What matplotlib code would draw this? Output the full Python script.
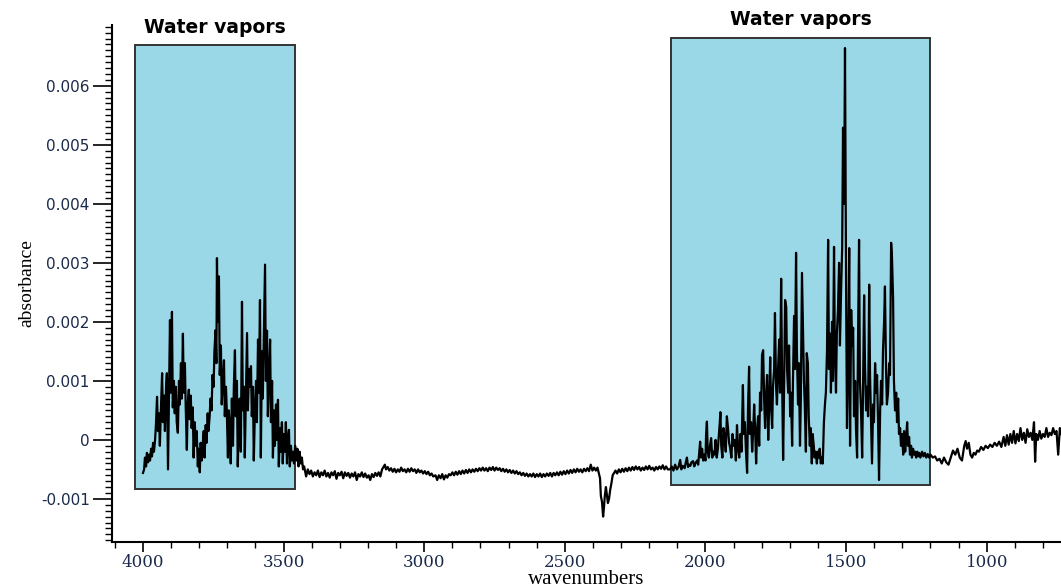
import matplotlib.pyplot as plt
from matplotlib.patches import Rectangle
from matplotlib.ticker import MultipleLocator
import numpy as np

# spectrum, absorbance in units of 1e-3
wn_oh = [4000, 3996, 3993, 3989, 3986, 3982, 3978, 3975, 3971, 3968, 3964, 3961, 3957, 3954,
         3950, 3947, 3943, 3940, 3936, 3932, 3929, 3925, 3922, 3918, 3915, 3911, 3908, 3904,
         3901, 3897, 3894, 3890, 3887, 3883, 3880, 3876, 3872, 3869, 3865, 3862, 3858, 3855,
         3851, 3848, 3844, 3841, 3837, 3834, 3830, 3827, 3823, 3820, 3816, 3812, 3809, 3805,
         3802, 3798, 3795, 3791, 3788, 3784, 3781, 3777, 3774, 3770, 3767, 3763, 3760, 3756,
         3753, 3749, 3746, 3742, 3739, 3737, 3734, 3730, 3727, 3723, 3720, 3716, 3712, 3709,
         3705, 3702, 3698, 3695, 3691, 3688, 3684, 3680, 3677, 3673, 3670, 3666, 3663, 3659,
         3656, 3652, 3648, 3645, 3641, 3638, 3634, 3630, 3627, 3623, 3620, 3616, 3613, 3609,
         3606, 3602, 3598, 3595, 3591, 3588, 3584, 3581, 3577, 3574, 3570, 3566, 3563, 3559,
         3556, 3552, 3548, 3545, 3541, 3538, 3534, 3531, 3527, 3524, 3520, 3517, 3513, 3510,
         3506, 3503, 3499, 3495, 3492, 3488, 3485, 3481, 3478, 3474, 3471, 3467, 3463, 3459,
         3455, 3451, 3447, 3443, 3439, 3435, 3431]
abs_oh = [-0.56, -0.5, -0.3, -0.45, -0.22, -0.38, -0.25, -0.35, -0.15, -0.28, -0.05, -0.2, 0.0, 0.25,
          0.73, 0.15, 0.45, -0.1, 0.55, 1.13, 0.3, 0.75, 0.15, 0.9, 1.13, -0.5, 0.55, 2.03,
          0.8, 2.17, 0.55, 1.0, 0.45, 0.9, 0.3, 0.12, 1.0, 0.6, 1.3, 0.7, 1.8, 0.8,
          1.3, 0.55, -0.17, 0.6, 0.85, 0.35, 0.75, 0.2, 0.55, -0.3, 0.3, -0.1, 0.15, -0.45,
          -0.15, -0.55, -0.05, -0.35, -0.1, 0.15, -0.3, 0.25, -0.05, 0.45, 0.15, 0.4, 0.7, 0.5,
          1.1, 0.9, 1.5, 1.86, 1.3, 3.08, 2.0, 2.77, 1.1, 1.6, 0.6, 1.0, 1.35, 0.4,
          0.9, 0.5, -0.3, 0.5, 0.2, -0.4, 0.7, -0.1, 0.9, 1.52, 0.4, 1.0, -0.45, 0.3,
          0.7, -0.2, 2.34, 0.5, 0.9, -0.3, 0.8, 1.81, 0.5, 1.2, 0.9, 1.25, 0.4, 0.9,
          -0.35, 0.5, 1.0, 0.3, 1.7, 0.8, 2.37, -0.3, 1.5, 0.7, 1.8, 2.97, 1.0, 1.85,
          0.4, 1.1, 1.7, 0.3, 1.0, -0.3, 0.5, -0.1, 0.6, 0.0, 0.68, -0.45, 0.2, -0.2,
          0.3, -0.4, 0.1, -0.2, 0.3, -0.4, 0.0, 0.17, -0.45, -0.1, -0.35, -0.2, -0.4, -0.1,
          -0.35, -0.15, -0.45, -0.2, -0.4, -0.3, -0.5]

wn_mid = [3427, 3420, 3414, 3408, 3402, 3396, 3390, 3384, 3378, 3372, 3366, 3360, 3354, 3348,
          3342, 3336, 3330, 3324, 3318, 3312, 3306, 3300, 3294, 3288, 3282, 3276, 3270, 3264,
          3258, 3252, 3246, 3240, 3234, 3228, 3222, 3216, 3210, 3204, 3198, 3192, 3186, 3180,
          3174, 3168, 3162, 3156, 3150, 3144, 3140, 3136, 3130, 3124, 3118, 3112, 3106, 3100,
          3094, 3088, 3082, 3076, 3070, 3064, 3058, 3052, 3046, 3040, 3034, 3028, 3022, 3016,
          3010, 3004, 2998, 2992, 2986, 2980, 2974, 2968, 2960, 2954, 2948, 2942, 2936, 2930,
          2924, 2918, 2912, 2906, 2900, 2894, 2888, 2882, 2876, 2870, 2864, 2858, 2852, 2846,
          2840, 2834, 2828, 2822, 2816, 2810, 2804, 2798, 2792, 2786, 2780, 2774, 2768, 2762,
          2756, 2750, 2744, 2738, 2732, 2726, 2720, 2714, 2708, 2702, 2696, 2690, 2684, 2678,
          2672, 2666, 2660, 2654, 2648, 2642, 2636, 2630, 2624, 2618, 2612, 2606, 2600, 2594,
          2588, 2582, 2576, 2570, 2564, 2558, 2552, 2546, 2540, 2534, 2528, 2522, 2516, 2510,
          2504, 2498, 2492, 2486, 2480, 2474, 2468, 2462, 2456, 2450, 2444, 2438, 2432, 2426,
          2420, 2414, 2408, 2402, 2396, 2390, 2384, 2380, 2375, 2372, 2368, 2364, 2361, 2358,
          2354, 2350, 2347, 2343, 2339, 2335, 2330, 2325, 2320, 2314, 2308, 2302, 2296, 2290,
          2284, 2278, 2272, 2266, 2260, 2254, 2248, 2242, 2236, 2230, 2224, 2218, 2212, 2206,
          2200, 2194, 2188, 2182, 2176, 2170, 2164, 2158, 2152, 2146, 2140, 2134]
abs_mid = [-0.45, -0.62, -0.5, -0.58, -0.52, -0.62, -0.55, -0.6, -0.52, -0.63, -0.55, -0.6, -0.52, -0.62,
           -0.56, -0.64, -0.55, -0.6, -0.53, -0.66, -0.56, -0.6, -0.54, -0.65, -0.55, -0.61, -0.56, -0.64,
           -0.57, -0.62, -0.55, -0.68, -0.58, -0.62, -0.55, -0.63, -0.57, -0.64, -0.6, -0.68, -0.58, -0.63,
           -0.56, -0.61, -0.55, -0.62, -0.5, -0.45, -0.42, -0.5, -0.46, -0.52, -0.48, -0.54, -0.49, -0.55,
           -0.5, -0.54, -0.47, -0.53, -0.5, -0.55, -0.49, -0.54, -0.48, -0.53, -0.5, -0.56, -0.5, -0.55,
           -0.52, -0.57, -0.53, -0.58, -0.54, -0.6, -0.57, -0.62, -0.6, -0.68, -0.6, -0.65, -0.58, -0.67,
           -0.6, -0.64, -0.58, -0.6, -0.55, -0.6, -0.54, -0.59, -0.53, -0.58, -0.52, -0.57, -0.51, -0.56,
           -0.5, -0.55, -0.5, -0.54, -0.49, -0.53, -0.48, -0.52, -0.47, -0.52, -0.48, -0.53, -0.47, -0.51,
           -0.46, -0.52, -0.47, -0.51, -0.48, -0.53, -0.49, -0.54, -0.5, -0.55, -0.51, -0.56, -0.52, -0.57,
           -0.53, -0.58, -0.55, -0.6, -0.56, -0.61, -0.57, -0.62, -0.58, -0.62, -0.57, -0.63, -0.58, -0.62,
           -0.57, -0.63, -0.58, -0.62, -0.57, -0.61, -0.56, -0.62, -0.56, -0.6, -0.55, -0.6, -0.54, -0.59,
           -0.53, -0.58, -0.52, -0.57, -0.51, -0.56, -0.5, -0.55, -0.49, -0.54, -0.5, -0.55, -0.49, -0.53,
           -0.48, -0.53, -0.42, -0.52, -0.47, -0.52, -0.47, -0.55, -0.65, -0.95, -1.05, -1.3, -1.15, -0.95,
           -0.8, -0.95, -1.07, -1.0, -0.85, -0.75, -0.6, -0.56, -0.52, -0.57, -0.5, -0.55, -0.49, -0.54,
           -0.48, -0.53, -0.47, -0.52, -0.46, -0.51, -0.45, -0.5, -0.46, -0.52, -0.47, -0.51, -0.45, -0.5,
           -0.44, -0.5, -0.47, -0.52, -0.46, -0.5, -0.45, -0.49, -0.43, -0.5, -0.45, -0.5]

wn_bend = [2126, 2120, 2114, 2108, 2102, 2096, 2090, 2086, 2080, 2074, 2070, 2066, 2062, 2058,
           2054, 2050, 2044, 2040, 2036, 2030, 2026, 2022, 2019, 2016, 2012, 2008, 2004, 2000,
           1998, 1995, 1992, 1988, 1984, 1980, 1976, 1972, 1968, 1964, 1960, 1956, 1952, 1949,
           1947, 1944, 1940, 1936, 1932, 1928, 1924, 1920, 1916, 1912, 1908, 1904, 1900, 1896,
           1892, 1888, 1884, 1880, 1876, 1872, 1867, 1864, 1860, 1856, 1852, 1849, 1845, 1842,
           1838, 1834, 1830, 1827, 1823, 1820, 1816, 1813, 1809, 1806, 1802, 1799, 1795, 1791,
           1788, 1784, 1781, 1777, 1774, 1770, 1767, 1763, 1760, 1756, 1753, 1749, 1746, 1742,
           1738, 1735, 1731, 1728, 1724, 1720, 1717, 1713, 1710, 1706, 1703, 1699, 1696, 1692,
           1689, 1685, 1682, 1678, 1675, 1671, 1668, 1664, 1661, 1657, 1654, 1650, 1647, 1643,
           1640, 1636, 1633, 1629, 1626, 1622, 1619, 1615, 1612, 1608, 1604, 1601, 1597, 1594,
           1590, 1587, 1583, 1579, 1575, 1572, 1568, 1564, 1561, 1557, 1554, 1550, 1547, 1543,
           1540, 1536, 1533, 1529, 1525, 1522, 1518, 1514, 1511, 1507, 1504, 1500, 1497, 1493,
           1489, 1486, 1482, 1479, 1475, 1472, 1468, 1465, 1461, 1458, 1454, 1451, 1447, 1443,
           1440, 1436, 1433, 1429, 1426, 1422, 1418, 1415, 1411, 1408, 1404, 1401, 1397, 1393,
           1390, 1386, 1383, 1379, 1376, 1372, 1369, 1365, 1362, 1358, 1355, 1351, 1347, 1344,
           1340, 1337, 1333, 1330, 1326, 1322, 1319, 1315, 1312, 1308, 1305, 1301, 1297, 1294,
           1290, 1287, 1283, 1280, 1276, 1273, 1269, 1266, 1262, 1258, 1255, 1251, 1247, 1244,
           1240, 1236, 1230, 1225, 1220, 1215, 1210, 1205]
abs_bend = [-0.5, -0.45, -0.52, -0.42, -0.5, -0.46, -0.34, -0.5, -0.44, -0.48, -0.38, -0.3, -0.46, -0.42,
            -0.44, -0.38, -0.36, -0.45, -0.4, -0.35, -0.42, -0.2, -0.03, -0.3, -0.15, -0.35, -0.25, -0.35,
            0.08, 0.31, -0.2, -0.3, -0.1, 0.03, -0.3, -0.2, -0.25, 0.0, -0.3, -0.15, 0.1, 0.31,
            0.47, -0.1, -0.3, 0.2, 0.05, -0.2, 0.4, 0.2, -0.05, -0.15, -0.3, 0.1, -0.1, 0.0,
            -0.35, 0.25, -0.15, -0.3, 0.1, -0.2, 0.93, 0.1, 0.3, -0.2, -0.56, 0.5, 1.24, 0.1,
            0.3, -0.2, 0.2, 0.6, 0.1, -0.4, 0.2, 0.4, -0.1, 0.8, 0.5, 1.44, 1.52, 0.6,
            0.2, 0.8, 1.1, 0.0, 0.5, 1.4, 0.6, 0.2, 0.9, 1.2, 2.15, 0.9, 0.6, 1.2,
            1.7, 0.8, 2.73, 1.2, -0.34, 1.1, 2.37, 2.25, 1.2, 0.8, 1.6, 0.4, 0.8, -0.1,
            1.0, 2.1, 1.2, 3.17, 1.5, 0.6, 1.3, -0.1, 0.7, 2.83, 2.0, 1.0, 0.6, -0.2,
            1.47, 1.3, 0.4, -0.1, 0.2, -0.4, 0.1, -0.1, -0.3, -0.2, -0.4, -0.2, -0.3, -0.15,
            -0.4, -0.3, -0.4, 0.3, 0.62, 0.8, 1.5, 3.39, 1.2, 1.8, 0.8, 2.0, 1.0, 3.27,
            1.5, 0.8, 1.8, 2.2, 3.0, 1.6, 2.5, 3.27, 5.29, 4.0, 6.64, 2.5, 0.2, 1.2,
            3.25, -0.1, 2.2, 1.6, 1.9, 0.4, 1.0, 0.2, -0.3, 1.5, 3.39, 1.0, 0.5, -0.3,
            0.8, 2.45, 1.3, 0.5, 0.9, 0.4, 2.63, 1.1, 0.2, -0.4, 0.6, 0.3, 1.3, 0.8,
            1.1, 0.2, -0.68, 0.5, 1.0, 0.6, 1.5, 2.0, 2.6, 1.2, 0.6, 0.8, 1.3, 1.1,
            3.34, 3.1, 2.4, 1.0, 0.5, 0.8, 0.3, 0.7, 0.1, 0.2, -0.1, 0.1, -0.25, 0.15,
            -0.2, 0.0, 0.3, -0.1, 0.05, -0.25, -0.1, -0.3, -0.15, -0.25, -0.2, -0.3, -0.2, -0.28,
            -0.22, -0.3, -0.2, -0.28, -0.22, -0.3, -0.24, -0.3]

wn_tail = [1200, 1192, 1184, 1176, 1168, 1160, 1152, 1144, 1136, 1128, 1120, 1112, 1104, 1096,
           1088, 1080, 1075, 1070, 1064, 1058, 1052, 1046, 1040, 1034, 1028, 1020, 1012, 1004,
           996, 988, 980, 972, 964, 956, 948, 940, 934, 928, 922, 916, 910, 904,
           898, 892, 886, 880, 874, 868, 862, 856, 850, 844, 838, 832, 828, 824,
           818, 812, 806, 800, 794, 788, 782, 776, 770, 764, 758, 752, 746, 740, 737]
abs_tail = [-0.25, -0.3, -0.28, -0.35, -0.32, -0.4, -0.3, -0.38, -0.42, -0.3, -0.18, -0.25, -0.15, -0.3,
            -0.35, -0.1, -0.02, -0.15, -0.05, -0.25, -0.3, -0.22, -0.25, -0.18, -0.2, -0.12, -0.17, -0.1,
            -0.14, -0.08, -0.12, -0.05, -0.1, -0.03, -0.12, 0.05, -0.1, 0.08, -0.08, 0.1, -0.05, 0.15,
            -0.06, 0.1, -0.02, 0.2, 0.0, 0.12, -0.05, 0.18, 0.05, 0.12, 0.0, 0.3, -0.37, 0.1,
            0.0, 0.15, 0.02, 0.1, 0.05, 0.2, 0.05, 0.12, 0.08, 0.2, 0.1, 0.15, -0.25, 0.2, 0.1]

# shaded water vapour regions: (high wn, low wn, bottom, top) in 1e-3 units
box_left = [4028, 3459, -0.83, 6.69]
box_right = [2121, 1200, -0.76, 6.81]
box_label = "Water vapors"

wn = np.array(wn_oh + wn_mid + wn_bend + wn_tail)
absorb = np.array(abs_oh + abs_mid + abs_bend + abs_tail) * 1e-3

fig = plt.figure(figsize=(10.61, 5.87), dpi=100)
ax = fig.add_axes([0.1056, 0.0767, 0.8944, 0.8807])

tick_color = "#1a2a4a"
for box, ty in [(box_left, 6.98), (box_right, 7.12)]:
    hi, lo, b, t = box
    ax.add_patch(Rectangle((lo, b * 1e-3), hi - lo, (t - b) * 1e-3,
                           facecolor="#9ad8e8", edgecolor="#333333", lw=1.4, zorder=1))
    ax.text((hi + lo) / 2, ty * 1e-3, box_label, ha="center", va="center",
            fontsize=13.5, fontweight="bold", family="DejaVu Sans", clip_on=False)

ax.plot(wn, absorb, color="black", lw=1.6, zorder=2)

ax.set_xlim(4110, 736)
ax.set_ylim(-0.00173, 0.00703)

ax.spines["top"].set_visible(False)
ax.spines["right"].set_visible(False)
ax.spines["left"].set_linewidth(1.5)
ax.spines["bottom"].set_linewidth(1.5)

yt = [-0.001, 0, 0.001, 0.002, 0.003, 0.004, 0.005, 0.006]
ax.set_yticks(yt)
ax.set_yticklabels(["-0.001", "0", "0.001", "0.002", "0.003", "0.004", "0.005", "0.006"],
                   family="DejaVu Sans", fontsize=11, color=tick_color)
ax.yaxis.set_minor_locator(MultipleLocator(0.0001))
xt = [4000, 3500, 3000, 2500, 2000, 1500, 1000]
ax.set_xticks(xt)
ax.set_xticklabels([str(v) for v in xt], family="DejaVu Serif", fontsize=12, color=tick_color)
ax.xaxis.set_minor_locator(MultipleLocator(100))

ax.tick_params(axis="y", which="major", length=14, width=1.2, pad=2)
ax.tick_params(axis="y", which="minor", length=5, width=1)
ax.tick_params(axis="x", which="major", length=7, width=1.2, pad=2)
ax.tick_params(axis="x", which="minor", length=4, width=1)

ax.set_xlabel("wavenumbers", family="Liberation Serif", fontsize=15, labelpad=-1)
ax.set_ylabel("absorbance", family="Liberation Serif", fontsize=14, labelpad=4)

fig.savefig("out.png", dpi=100)
